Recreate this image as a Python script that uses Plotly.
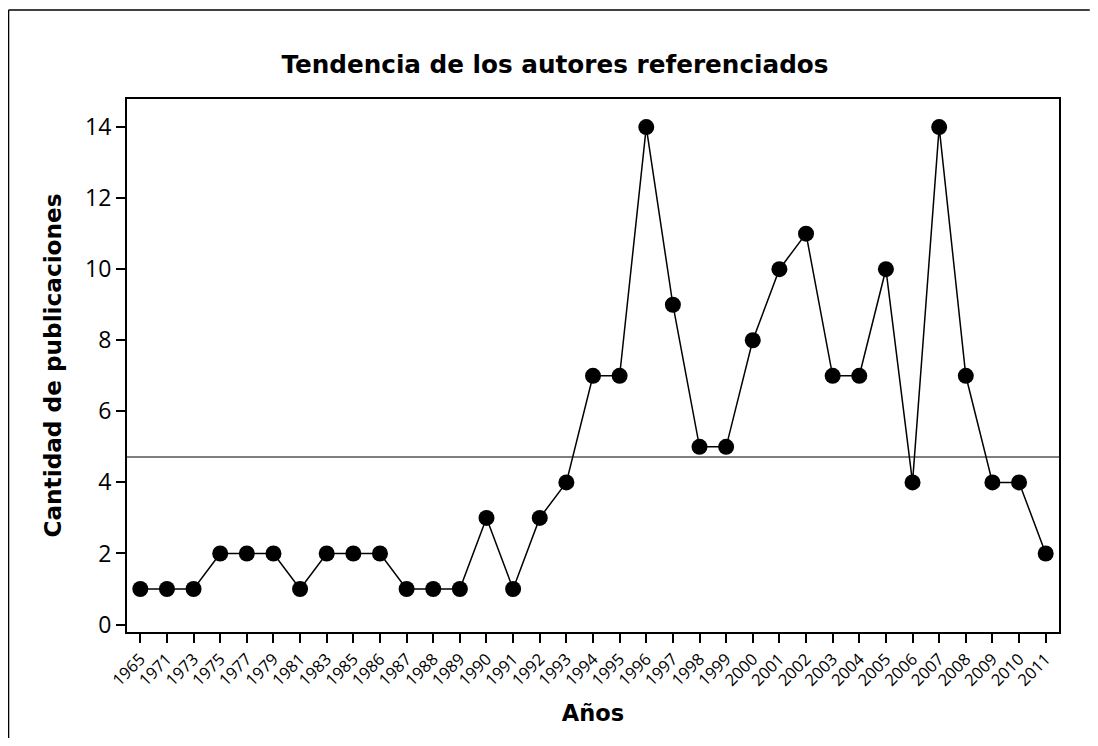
import plotly.graph_objects as go

# data
anios = ['1965', '1971', '1973', '1975', '1977', '1979', '1981', '1983', '1985', '1986',
         '1987', '1988', '1989', '1990', '1991', '1992', '1993', '1994', '1995', '1996',
         '1997', '1998', '1999', '2000', '2001', '2002', '2003', '2004', '2005', '2006',
         '2007', '2008', '2009', '2010', '2011']
publicaciones = [1, 1, 1, 2, 2, 2, 1, 2, 2, 2,
                 1, 1, 1, 3, 1, 3, 4, 7, 7, 14,
                 9, 5, 5, 8, 10, 11, 7, 7, 10, 4,
                 14, 7, 4, 4, 2]

media = sum(publicaciones) / len(publicaciones)
n = len(anios)

fig = go.Figure()

# horizontal reference line at the mean
fig.add_trace(go.Scatter(
    x=[-0.5, n - 0.5], y=[media, media], mode='lines',
    line=dict(color='#555555', width=1.5), hoverinfo='skip', showlegend=False,
))

fig.add_trace(go.Scatter(
    x=list(range(n)), y=publicaciones, mode='lines+markers',
    line=dict(color='black', width=1.5),
    marker=dict(color='black', size=16),
    showlegend=False,
))

# page keeps an 8px body margin, so the figure is sized to fit inside it
fig.update_layout(
    width=1082, height=730,
    paper_bgcolor='white', plot_bgcolor='white',
    margin=dict(l=119, r=31, t=91, b=106),
    font=dict(family='Open Sans, DejaVu Sans, sans-serif', color='black'),
    title=dict(text='<b>Tendencia de los autores referenciados</b>',
               x=0.5055, xanchor='center', y=0.9233, yanchor='middle',
               font=dict(family='DejaVu Sans, sans-serif', size=24.7, color='black')),
)

fig.update_xaxes(
    tickmode='array', tickvals=list(range(n)), ticktext=anios,
    range=[-0.5, n - 0.5],
    tickangle=-45, tickfont=dict(size=16.5),
    ticks='outside', ticklen=9, tickwidth=1.5, tickcolor='black',
    showline=True, linecolor='black', linewidth=2, mirror=True,
    showgrid=False, zeroline=False,
    title=dict(text='<b>Años</b>', font=dict(family='DejaVu Sans, sans-serif', size=22.5), standoff=16),
)
fig.update_yaxes(
    range=[-0.21, 14.79], dtick=2, tick0=0,
    tickfont=dict(size=23),
    ticks='outside', ticklen=9, tickwidth=1.5, tickcolor='black',
    showline=True, linecolor='black', linewidth=2, mirror=True,
    showgrid=False, zeroline=False,
    title=dict(text='<b>Cantidad de publicaciones</b>', font=dict(family='DejaVu Sans, sans-serif', size=23.2), standoff=17),
)

# outer frame (left and top edges visible in the reference)
fig.add_shape(type='line', xref='paper', yref='paper', x0=-0.1271, x1=-0.1271, y0=1.167, y1=-0.199,
              line=dict(color='black', width=1.5))
fig.add_shape(type='line', xref='paper', yref='paper', x0=-0.1271, x1=1.033, y0=1.167, y1=1.167,
              line=dict(color='black', width=1.5))

fig.write_html('out.html')
